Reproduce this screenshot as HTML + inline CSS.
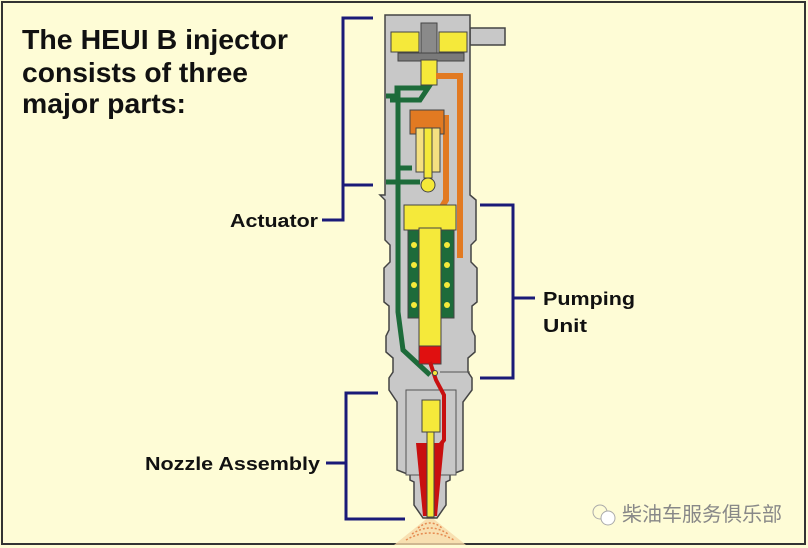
<!DOCTYPE html>
<html><head><meta charset="utf-8"><style>
html,body{margin:0;padding:0;background:#fefcd6;}
svg{display:block}
</style></head><body>
<svg width="808" height="548" viewBox="0 0 808 548" xmlns="http://www.w3.org/2000/svg">
<rect x="0" y="0" width="808" height="548" fill="#fefcd6"/>
<rect x="2" y="2" width="803" height="542" fill="none" stroke="#333" stroke-width="2"/>
<g font-family="Liberation Sans, sans-serif" font-weight="bold" fill="#111">
<text x="22" y="49" font-size="28" textLength="266" lengthAdjust="spacingAndGlyphs">The HEUI B injector</text>
<text x="22" y="82" font-size="28" textLength="226" lengthAdjust="spacingAndGlyphs">consists of three</text>
<text x="22" y="113" font-size="28" textLength="164" lengthAdjust="spacingAndGlyphs">major parts:</text>
<text x="230" y="227" font-size="18" textLength="88" lengthAdjust="spacingAndGlyphs">Actuator</text>
<text x="543" y="305" font-size="18" textLength="92" lengthAdjust="spacingAndGlyphs">Pumping</text>
<text x="543" y="332" font-size="18" textLength="44" lengthAdjust="spacingAndGlyphs">Unit</text>
<text x="145" y="470" font-size="18" textLength="175" lengthAdjust="spacingAndGlyphs">Nozzle Assembly</text>
</g>
<g stroke="#1a1a78" stroke-width="3" fill="none">
<polyline points="373,18 343,18 343,220 322,220"/>
<line x1="343" y1="185" x2="373" y2="185"/>
<polyline points="480,205 513,205 513,378 480,378"/>
<line x1="513" y1="298" x2="535" y2="298"/>
<polyline points="378,393 346,393 346,519 405,519"/>
<line x1="326" y1="463" x2="346" y2="463"/>
</g>
<path d="M430,516 L394,545 L466,545 Z" fill="#f6d8a8" opacity="0.8"/>
<path d="M418,528 Q430,518 442,528 M412,534 Q430,522 448,534 M406,540 Q430,526 454,540" stroke="#e58a50" stroke-width="1.5" fill="none" stroke-dasharray="2,2"/>
<g stroke="#444" stroke-width="1.5">
<rect x="470" y="28" width="35" height="17" fill="#c8c8c8"/>
<path d="M385,15 L470,15 L470,195 L476,200 L476,240 L471,245 L471,262 L477,268 L477,302 L472,306 L472,330 L475,336 L475,352 L468,358 L468,372 L472,378 L472,390 L463,402 L463,470 L450,475 L450,480 L446,482 L446,505 L437,518 L423,518 L414,505 L414,482 L410,480 L410,475 L397,470 L397,402 L389,390 L389,378 L393,372 L393,358 L386,352 L386,336 L389,330 L389,306 L384,302 L384,268 L390,262 L390,245 L385,240 L385,200 L380,195 L385,195 Z" fill="#c8c8c8"/>
</g>
<rect x="406" y="390" width="50" height="85" fill="#c8c8c8" stroke="#555" stroke-width="1"/>
<rect x="391" y="32" width="28" height="20" fill="#f5e93a" stroke="#444"/>
<rect x="439" y="32" width="28" height="20" fill="#f5e93a" stroke="#444"/>
<rect x="421" y="23" width="16" height="33" fill="#8a8a8a" stroke="#444"/>
<rect x="398" y="53" width="66" height="8" fill="#7a7a7a" stroke="#444"/>
<rect x="421" y="60" width="16" height="25" fill="#f5e93a" stroke="#444"/>
<g fill="none" stroke="#e27a22" stroke-width="6">
<polyline points="436,76 460,76 460,258"/>
<polyline points="440,118 446,118 446,200 440,210"/>
</g>
<rect x="410" y="110" width="34" height="24" fill="#e27a22" stroke="#444" stroke-width="1"/>
<g fill="none" stroke="#1d6b3a" stroke-width="5">
<polyline points="386,96 397,96 397,88 428,88 420,100 390,100"/>
<polyline points="398,90 398,312 403,350 430,375"/>
<polyline points="386,182 420,182"/>
<polyline points="398,168 412,168"/>
</g>
<rect x="416" y="128" width="24" height="44" fill="#f5e080" stroke="#444" stroke-width="1"/>
<rect x="424" y="128" width="8" height="50" fill="#f5e93a" stroke="#444" stroke-width="1"/>
<circle cx="428" cy="185" r="7" fill="#f5e93a" stroke="#444"/>
<rect x="404" y="205" width="52" height="25" fill="#f5e93a" stroke="#444"/>
<rect x="408" y="230" width="46" height="88" fill="#1d6b3a" stroke="#444"/>
<rect x="419" y="228" width="22" height="118" fill="#f5e93a" stroke="#444"/>
<g fill="#f5e93a">
<circle cx="414" cy="245" r="3"/><circle cx="414" cy="265" r="3"/><circle cx="414" cy="285" r="3"/><circle cx="414" cy="305" r="3"/>
<circle cx="447" cy="245" r="3"/><circle cx="447" cy="265" r="3"/><circle cx="447" cy="285" r="3"/><circle cx="447" cy="305" r="3"/>
</g>
<rect x="419" y="346" width="22" height="18" fill="#e01010" stroke="#444" stroke-width="1"/>
<g fill="none" stroke="#c81010" stroke-width="4">
<polyline points="430,362 436,380 444,395 444,440 440,445"/>
</g>
<path d="M416,443 L444,443 L437,516 L423,516 Z" fill="#c81010"/>
<rect x="422" y="400" width="18" height="32" fill="#f5e93a" stroke="#444" stroke-width="1"/>
<rect x="427" y="432" width="7" height="85" fill="#f5e93a" stroke="#444" stroke-width="1"/>
<line x1="440" y1="372" x2="470" y2="372" stroke="#555"/>
<circle cx="435" cy="373" r="2.5" fill="#f5e93a" stroke="#444"/>
<g font-family="Liberation Sans, Noto Sans CJK SC, sans-serif" fill="#888">
<circle cx="600" cy="512" r="7" fill="none" stroke="#aaa"/>
<circle cx="608" cy="518" r="7" fill="#fff" stroke="#aaa"/>
<text x="622" y="521" font-size="20">柴油车服务俱乐部</text>
</g>
</svg>
</body></html>
